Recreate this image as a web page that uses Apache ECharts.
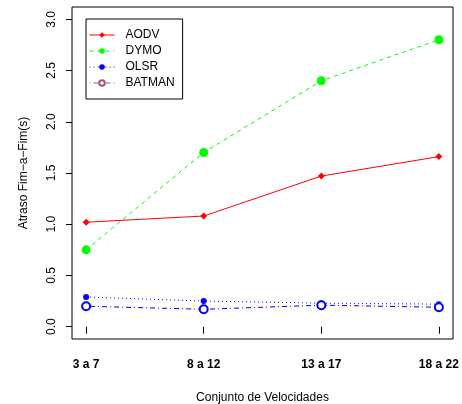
<!DOCTYPE html>
<html>
<head>
<meta charset="utf-8">
<script src="https://cdn.jsdelivr.net/npm/echarts@6/dist/echarts.min.js"></script>
<style>
html,body{margin:0;padding:0;background:#fff;}
#chart{width:462px;height:404px;}
</style>
</head>
<body>
<div id="chart"></div>
<script>
var categories = ['3 a 7', '8 a 12', '13 a 17', '18 a 22'];
var aodv   = [1.02, 1.08, 1.47, 1.66];
var dymo   = [0.75, 1.70, 2.40, 2.80];
var olsr   = [0.29, 0.25, 0.23, 0.22];
var batman = [0.20, 0.17, 0.21, 0.19];
var yTicks = [0, 0.5, 1.0, 1.5, 2.0, 2.5, 3.0];
var xTicks = [1, 2, 3, 4];

function pts(arr){ return arr.map(function(v,i){ return [i+1, v]; }); }

var FONT = 'Liberation Sans, Arial, Helvetica, sans-serif';
var chart = echarts.init(document.getElementById('chart'), null, {renderer:'canvas'});
chart.setOption({
  animation: false,
  backgroundColor: '#ffffff',
  textStyle: {fontFamily: FONT},
  grid: {left: 72, right: 9, top: 7, bottom: 65, show: true, borderColor: '#000', borderWidth: 1, backgroundColor: 'transparent',
         containLabel: false, outerBoundsMode: 'none'},
  xAxis: {
    type: 'value', min: 0.88, max: 4.12,
    splitLine: {show: false},
    axisLine: {show: false},
    axisTick: {show: true, customValues: xTicks, length: 7, lineStyle: {color: '#000', width: 1}},
    axisLabel: {show: true, customValues: xTicks, margin: 20, fontSize: 12, fontWeight: 'bold', color: '#000', fontFamily: FONT,
      formatter: function(v){ return categories[Math.round(v)-1]; }},
    name: 'Conjunto de Velocidades', nameLocation: 'middle', nameGap: 53,
    nameTextStyle: {fontSize: 12, color: '#000', fontFamily: FONT}
  },
  yAxis: {
    type: 'value', min: -0.12, max: 3.12,
    splitLine: {show: false},
    axisLine: {show: false},
    axisTick: {show: true, customValues: yTicks, length: 6, lineStyle: {color: '#000', width: 1}},
    axisLabel: {show: true, customValues: yTicks, rotate: 90, margin: 14, fontSize: 12, color: '#000', fontFamily: FONT,
      formatter: function(v){ return v.toFixed(1); }},
    name: 'Atraso Fim\u2212a\u2212Fim(s)', nameLocation: 'middle', nameGap: 42, nameRotate: 90,
    nameTextStyle: {fontSize: 12, color: '#000', fontFamily: FONT}
  },
  legend: {
    orient: 'vertical', left: 86, top: 19,
    backgroundColor: '#fff', borderColor: '#000', borderWidth: 1, borderRadius: 0,
    padding: [10, 8, 10, 3],
    itemWidth: 25, itemHeight: 7, itemGap: 4,
    textStyle: {fontSize: 12, color: '#000', fontFamily: FONT, padding: [0, 0, 0, 6]},
    data: [
      {name: 'AODV', lineStyle: {width: 1}},
      {name: 'DYMO', lineStyle: {width: 1}},
      {name: 'OLSR', lineStyle: {width: 1}},
      {name: 'BATMAN', itemStyle: {color: '#9b5a78', borderColor: '#9b5a78', borderWidth: 1}, lineStyle: {color: '#9b5a78', width: 1}}
    ]
  },
  series: [
    {name: 'AODV', type: 'line', data: pts(aodv), symbol: 'diamond', symbolSize: 7,
     itemStyle: {color: '#ff0000'}, lineStyle: {color: '#ff0000', width: 1, type: 'solid'}},
    {name: 'DYMO', type: 'line', data: pts(dymo), symbol: 'circle', symbolSize: 9,
     itemStyle: {color: '#00ff00'}, lineStyle: {color: '#00ff00', width: 1, type: [4, 4]}},
    {name: 'OLSR', type: 'line', data: pts(olsr), symbol: 'circle', symbolSize: 6,
     itemStyle: {color: '#0000ff'}, lineStyle: {color: '#0000ff', width: 1, type: [1, 3]}},
    {name: 'BATMAN', type: 'line', data: pts(batman), symbol: 'emptyCircle', symbolSize: 8,
     itemStyle: {color: '#0000ff', borderColor: '#0000ff', borderWidth: 1.2}, lineStyle: {color: '#0000ff', width: 1, type: [1, 3, 5, 3]}}
  ]
});
</script>
</body>
</html>
